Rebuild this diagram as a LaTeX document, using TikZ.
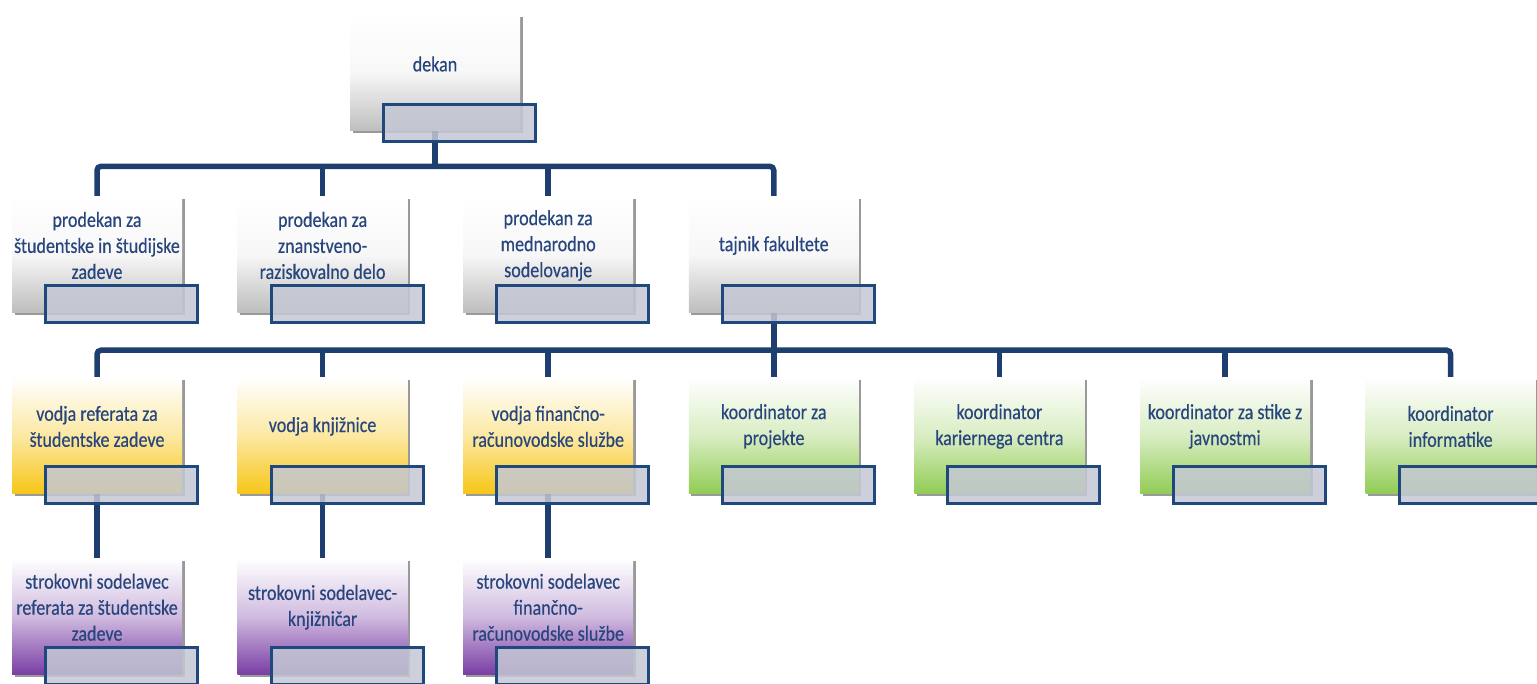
\documentclass[tikz,border=0pt]{standalone}
\usepackage{fontspec}
\setmainfont{Carlito}[FakeStretch=0.84,FakeBold=0.4]
\usepackage{tikz}
\usetikzlibrary{positioning,shadows,calc}
\definecolor{colorLine}{RGB}{30,62,112}
\definecolor{colorTag}{RGB}{196,200,212}
\definecolor{colorTagB}{RGB}{31,73,125}
\definecolor{colorTxt}{RGB}{40,70,125}
\definecolor{colorGy}{RGB}{190,190,190}
\definecolor{colorY}{RGB}{247,198,24}
\definecolor{colorG}{RGB}{146,204,84}
\definecolor{colorP}{RGB}{122,62,166}
\pgfdeclarelayer{background}
\pgfsetlayers{background,main}
\tikzstyle{post}=[minimum width=170pt, minimum height=116pt, inner sep=0pt, drop shadow={shadow xshift=2.5pt,shadow yshift=-2.5pt,fill=black,opacity=.4}]
\tikzstyle{postGy}=[post, top color=white, bottom color=colorGy, middle color=white!88!colorGy]
\tikzstyle{postY}=[post, top color=white, bottom color=colorY, middle color=white!60!colorY]
\tikzstyle{postG}=[post, top color=white, bottom color=colorG, middle color=white!65!colorG]
\tikzstyle{postP}=[post, top color=white, bottom color=colorP, middle color=white!65!colorP]
\tikzstyle{txt}=[align=center, text=colorTxt, font=\fontsize{21.5}{26}\selectfont, inner sep=0pt, yshift=9pt]
\tikzstyle{tag}=[minimum width=152pt, minimum height=37pt, draw=colorTagB, line width=3pt, fill=colorTag, fill opacity=.85, xshift=24.5pt, yshift=-50pt]
\tikzstyle{link}=[draw=colorLine, line width=5.5pt, rounded corners=4pt]

\begin{document}
\begin{tikzpicture}[node distance=64.5pt and 55.2pt]
\useasboundingbox (0,0) rectangle (1537pt,-684pt);

% dekan
\node[postGy] (dekan) at (435pt,-73pt) {};
\node[txt] (dekanTxt) at (dekan.center) {dekan};

% prodekani in tajnik
\node[postGy] (pStud) at (97pt,-254.5pt) {};
\node[postGy,right=of pStud] (pZnan) {};
\node[postGy,right=of pZnan] (pMed) {};
\node[postGy,right=of pMed] (tajnik) {};
\node[txt] (pStudTxt) at (pStud.center) {prodekan za\\študentske in študijske\\zadeve};
\node[txt] (pZnanTxt) at (pZnan.center) {prodekan za\\znanstveno-\\raziskovalno delo};
\node[txt] (pMedTxt) at (pMed.center) {prodekan za\\mednarodno\\sodelovanje};
\node[txt] (tajnikTxt) at (tajnik.center) {tajnik fakultete};

% vodje in koordinatorji
\node[postY,below=of pStud] (vRef) {};
\node[postY,right=of vRef] (vKnj) {};
\node[postY,right=of vKnj] (vFin) {};
\node[postG,right=of vFin] (kPro) {};
\node[postG,right=of kPro] (kKar) {};
\node[postG,right=of kKar] (kJav) {};
\node[postG,right=of kJav] (kInf) {};
\node[txt] (vRefTxt) at (vRef.center) {vodja referata za\\študentske zadeve};
\node[txt] (vKnjTxt) at (vKnj.center) {vodja knjižnice};
\node[txt] (vFinTxt) at (vFin.center) {vodja finančno-\\računovodske službe};
\node[txt] (kProTxt) at (kPro.center) {koordinator za\\projekte};
\node[txt] (kKarTxt) at (kKar.center) {koordinator\\kariernega centra};
\node[txt] (kJavTxt) at (kJav.center) {koordinator za stike z\\javnostmi};
\node[txt] (kInfTxt) at (kInf.center) {koordinator\\informatike};

% strokovni sodelavci
\node[postP,below=of vRef] (sRef) {};
\node[postP,below=of vKnj] (sKnj) {};
\node[postP,below=of vFin] (sFin) {};
\node[txt] (sRefTxt) at (sRef.center) {strokovni sodelavec\\referata za študentske\\zadeve};
\node[txt] (sKnjTxt) at (sKnj.center) {strokovni sodelavec-\\knjižničar};
\node[txt] (sFinTxt) at (sFin.center) {strokovni sodelavec\\finančno-\\računovodske službe};

% imena (prazna polja)
\node[tag] (dekanTag) at (dekan.center) {};
\node[tag] (pStudTag) at (pStud.center) {};
\node[tag] (pZnanTag) at (pZnan.center) {};
\node[tag] (pMedTag) at (pMed.center) {};
\node[tag] (tajnikTag) at (tajnik.center) {};
\node[tag] (vRefTag) at (vRef.center) {};
\node[tag] (vKnjTag) at (vKnj.center) {};
\node[tag] (vFinTag) at (vFin.center) {};
\node[tag] (kProTag) at (kPro.center) {};
\node[tag] (kKarTag) at (kKar.center) {};
\node[tag] (kJavTag) at (kJav.center) {};
\node[tag] (kInfTag) at (kInf.center) {};
\node[tag] (sRefTag) at (sRef.center) {};
\node[tag] (sKnjTag) at (sKnj.center) {};
\node[tag] (sFinTag) at (sFin.center) {};

% povezave
\coordinate (bus1) at ($(pStud.north)+(0,30pt)$);
\coordinate (bus2) at ($(vRef.north)+(0,27pt)$);
\begin{pgfonlayer}{background}
\draw[link] (dekan.center) -- (dekan.center |- bus1);
\draw[link] (pStud.center) |- (bus1 -| tajnik.center) -- (tajnik.center);
\draw[link] (pZnan.center) -- (pZnan.center |- bus1);
\draw[link] (pMed.center) -- (pMed.center |- bus1);
\draw[link] (tajnik.center) -- (tajnik.center |- bus2);
\draw[link] (vRef.center) |- (bus2 -| kInf.center) -- (kInf.center);
\draw[link] (vKnj.center) -- (vKnj.center |- bus2);
\draw[link] (vFin.center) -- (vFin.center |- bus2);
\draw[link] (kPro.center) -- (kPro.center |- bus2);
\draw[link] (kKar.center) -- (kKar.center |- bus2);
\draw[link] (kJav.center) -- (kJav.center |- bus2);
\draw[link] (vRef.center) -- (sRef.center);
\draw[link] (vKnj.center) -- (sKnj.center);
\draw[link] (vFin.center) -- (sFin.center);
\end{pgfonlayer}

\end{tikzpicture}
\end{document}
